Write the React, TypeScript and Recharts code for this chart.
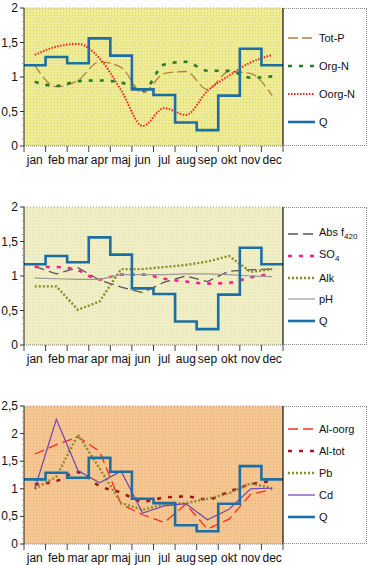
import React from "react";
import { ComposedChart, Line, XAxis, YAxis, CartesianGrid, ReferenceLine } from "recharts";

const months = ["jan", "feb", "mar", "apr", "maj", "jun", "jul", "aug", "sep", "okt", "nov", "dec"];
const q = [1.17, 1.29, 1.2, 1.56, 1.31, 0.82, 0.74, 0.34, 0.23, 0.73, 1.41, 1.17];

// panel 1
const totP = [1.17, 0.86, 0.95, 1.22, 1.14, 0.77, 1.05, 1.08, 0.82, 1.08, 1.05, 0.73];
const orgN = [0.93, 0.87, 0.94, 0.95, 0.92, 0.8, 1.18, 1.22, 1.09, 1.09, 0.99, 1.01];
const oorgN = [1.32, 1.44, 1.48, 1.27, 0.81, 0.29, 0.55, 0.45, 0.8, 1.02, 1.21, 1.32];

// panel 2
const absF = [1.14, 1.03, 1.12, 0.94, 0.84, 0.76, 0.91, 1.0, 0.92, 1.07, 1.09, 1.1];
const so4 = [1.13, 1.13, 1.08, 0.95, 1.02, 1.02, 0.96, 0.92, 0.89, 0.9, 0.98, 1.03];
const alk = [0.85, 0.85, 0.51, 0.63, 1.1, 1.1, 1.13, 1.16, 1.21, 1.29, 1.06, 1.1];
const ph = [0.97, 0.96, 0.95, 0.95, 1.02, 1.02, 1.02, 1.03, 1.03, 1.02, 1.0, 0.99];

// panel 3
const alOorg = [1.63, 1.8, 1.94, 1.68, 0.72, 0.53, 0.39, 0.72, 0.27, 0.45, 0.9, 0.99];
const alTot = [1.08, 1.14, 1.3, 1.05, 0.93, 0.77, 0.84, 0.86, 0.81, 0.95, 1.08, 1.14];
const pb = [1.0, 1.22, 1.98, 1.37, 0.74, 0.62, 0.72, 0.74, 0.82, 0.92, 1.1, 1.01];
const cd = [1.0, 2.26, 1.33, 1.11, 1.32, 0.56, 0.69, 0.73, 0.44, 0.63, 1.0, 1.01];

const yLabels2 = [0, 0.5, 1, 1.5, 2];
const yLabels25 = [0, 0.5, 1, 1.5, 2, 2.5];

const FONT = "'Liberation Sans', Arial, Helvetica, sans-serif";
const Q_COLOR = "#1b6fa5";

type Series = {
  name: React.ReactNode;
  values?: number[];
  color: string;
  width: number;
  dash?: string;
  curve?: "monotone" | "linear";
  isQ?: boolean;
};

const qData = [...q.map((v, i) => ({ x: i, v })), { x: 12, v: q[11] }];
const xTicks = Array.from({ length: 25 }, (_, i) => i / 2);

function MonthTick(props: any) {
  const { x, y, payload } = props;
  const v = payload.value as number;
  if (Number.isInteger(v)) {
    return <line x1={x} x2={x} y1={y} y2={y + 6} stroke="#444" strokeWidth={1} />;
  }
  return (
    <text x={x} y={y + 18} textAnchor="middle" fontSize={12} fontFamily={FONT} fill="#111">
      {months[Math.floor(v)]}
    </text>
  );
}

function makeYTick(labels: number[]) {
  return function YTick(props: any) {
    const { x, y, payload } = props;
    const v = payload.value as number;
    const major = labels.some((l) => Math.abs(l - v) < 1e-6);
    if (!major) {
      return <line x1={x - 2} x2={x} y1={y} y2={y} stroke="#999" strokeWidth={1} />;
    }
    return (
      <g>
        <line x1={x - 4} x2={x} y1={y} y2={y} stroke="#333" strokeWidth={1} />
        <text x={x - 6} y={y + 4} textAnchor="end" fontSize={12} fontFamily={FONT} fill="#111">
          {String(v).replace(".", ",")}
        </text>
      </g>
    );
  };
}

function LegendBox({ items, top, spacing, start }: { items: Series[]; top: number; spacing: number; start: number }) {
  return (
    <div
      style={{
        position: "absolute",
        left: 283,
        top,
        width: 84,
        height: 138,
        boxSizing: "border-box",
        border: "1px dotted #888",
        borderLeft: "none",
        fontFamily: FONT,
        fontSize: 11,
        color: "#111",
      }}
    >
      {items.map((s, i) => (
        <div
          key={i}
          style={{ position: "absolute", left: 5, top: start + i * spacing - 7, height: 14, display: "flex", alignItems: "center" }}
        >
          <svg width={27} height={8}>
            <line x1={0} x2={27} y1={4} y2={4} stroke={s.color} strokeWidth={s.width} strokeDasharray={s.dash} />
          </svg>
          <span style={{ marginLeft: 4, whiteSpace: "nowrap" }}>{s.name}</span>
        </div>
      ))}
    </div>
  );
}

function Panel({
  top,
  series,
  yMax,
  yLabels,
  bg,
  legendStart,
  legendSpacing,
}: {
  top: number;
  series: Series[];
  yMax: number;
  yLabels: number[];
  bg: string;
  legendStart: number;
  legendSpacing: number;
}) {
  const data = months.map((m, i) => {
    const row: Record<string, number | string> = { x: i + 0.5, month: m };
    series.forEach((s, k) => {
      if (s.values) row["s" + k] = s.values[i];
    });
    return row;
  });
  const yTicks = Array.from({ length: Math.round(yMax * 10) + 1 }, (_, i) => i / 10);
  const YTick = makeYTick(yLabels);
  return (
    <div style={{ position: "absolute", left: 0, top, width: 368, height: 170 }}>
      <ComposedChart width={368} height={170} margin={{ top: 8, right: 85, left: 0, bottom: 0 }}>
        <CartesianGrid horizontal={false} vertical={false} fill={`url(#${bg})`} />
        <XAxis
          type="number"
          dataKey="x"
          domain={[0, 12]}
          ticks={xTicks}
          interval={0}
          tickSize={0}
          tickMargin={0}
          height={24}
          tick={<MonthTick />}
          axisLine={{ stroke: "#777", strokeDasharray: "1 1" }}
          allowDataOverflow
        />
        <YAxis
          type="number"
          domain={[0, yMax]}
          ticks={yTicks}
          interval={0}
          width={24}
          tickSize={0}
          tickMargin={0}
          tick={<YTick />}
          axisLine={{ stroke: "#222" }}
          allowDataOverflow
        />
        <ReferenceLine y={yMax} stroke="#999" strokeDasharray="1 2" />
        {series.map((s, k) =>
          s.isQ ? null : (
            <Line
              key={k}
              data={data}
              dataKey={"s" + k}
              type={s.curve ?? "monotone"}
              stroke={s.color}
              strokeWidth={s.width}
              strokeDasharray={s.dash}
              dot={false}
              activeDot={false}
              isAnimationActive={false}
            />
          )
        )}
        <Line
          data={qData}
          dataKey="v"
          type="stepAfter"
          stroke={Q_COLOR}
          strokeWidth={2.6}
          dot={false}
          activeDot={false}
          isAnimationActive={false}
        />
        <ReferenceLine x={12} stroke="#111" strokeWidth={1.2} />
      </ComposedChart>
      <LegendBox items={series} top={8} start={legendStart} spacing={legendSpacing} />
    </div>
  );
}

const qSeries: Series = { name: "Q", color: Q_COLOR, width: 2.6, isQ: true };

const panel1: Series[] = [
  { name: "Tot-P", values: totP, color: "#b08040", width: 1.3, dash: "10 4" },
  { name: "Org-N", values: orgN, color: "#2a7a2e", width: 2.6, dash: "4 7" },
  { name: "Oorg-N", values: oorgN, color: "#ff1e1e", width: 2, dash: "1.5 1.5" },
  qSeries,
];

const panel2: Series[] = [
  { name: <>Abs f<sub style={{ fontSize: 8 }}>420</sub></>, values: absF, color: "#555", width: 1.3, dash: "10 5", curve: "linear" },
  { name: <>SO<sub style={{ fontSize: 8 }}>4</sub></>, values: so4, color: "#ff1a8c", width: 2.6, dash: "4 7" },
  { name: "Alk", values: alk, color: "#8c8a24", width: 2.4, dash: "2 2", curve: "linear" },
  { name: "pH", values: ph, color: "#999", width: 1.2, curve: "linear" },
  qSeries,
];

const panel3: Series[] = [
  { name: "Al-oorg", values: alOorg, color: "#ff2a2a", width: 1.3, dash: "10 5", curve: "linear" },
  { name: "Al-tot", values: alTot, color: "#a3161a", width: 2.6, dash: "4 7" },
  { name: "Pb", values: pb, color: "#8c8a30", width: 2.4, dash: "2 2", curve: "linear" },
  { name: "Cd", values: cd, color: "#7444b0", width: 1.2, curve: "linear" },
  qSeries,
];

export default function App() {
  return (
    <div
      style={{
        position: "absolute",
        left: 0,
        top: 0,
        width: 368,
        height: 565,
        overflow: "hidden",
        background: "#fff",
        fontFamily: FONT,
      }}
    >
      <svg width={0} height={0} style={{ position: "absolute" }}>
        <defs>
          <pattern id="bgY" width={3} height={3} patternUnits="userSpaceOnUse">
            <rect width={3} height={3} fill="#f0ec90" />
            <rect x={0} y={0} width={1} height={1} fill="#d6d27a" />
            <rect x={2} y={1} width={1} height={1} fill="#e4e8b0" />
          </pattern>
          <pattern id="bgP" width={3} height={3} patternUnits="userSpaceOnUse">
            <rect width={3} height={3} fill="#f3efc6" />
            <rect x={0} y={0} width={1} height={1} fill="#d8e8c0" />
            <rect x={2} y={1} width={1} height={1} fill="#e6dcb0" />
          </pattern>
          <pattern id="bgO" width={3} height={3} patternUnits="userSpaceOnUse">
            <rect width={3} height={3} fill="#f7c690" />
            <rect x={0} y={0} width={1} height={1} fill="#e6b27a" />
            <rect x={2} y={1} width={1} height={1} fill="#eccf9c" />
          </pattern>
        </defs>
      </svg>
      <Panel top={0} series={panel1} yMax={2} yLabels={yLabels2} bg="bgY" legendStart={29} legendSpacing={28} />
      <Panel top={199} series={panel2} yMax={2} yLabels={yLabels2} bg="bgP" legendStart={26} legendSpacing={21.8} />
      <Panel top={398} series={panel3} yMax={2.5} yLabels={yLabels25} bg="bgO" legendStart={22} legendSpacing={22} />
    </div>
  );
}
